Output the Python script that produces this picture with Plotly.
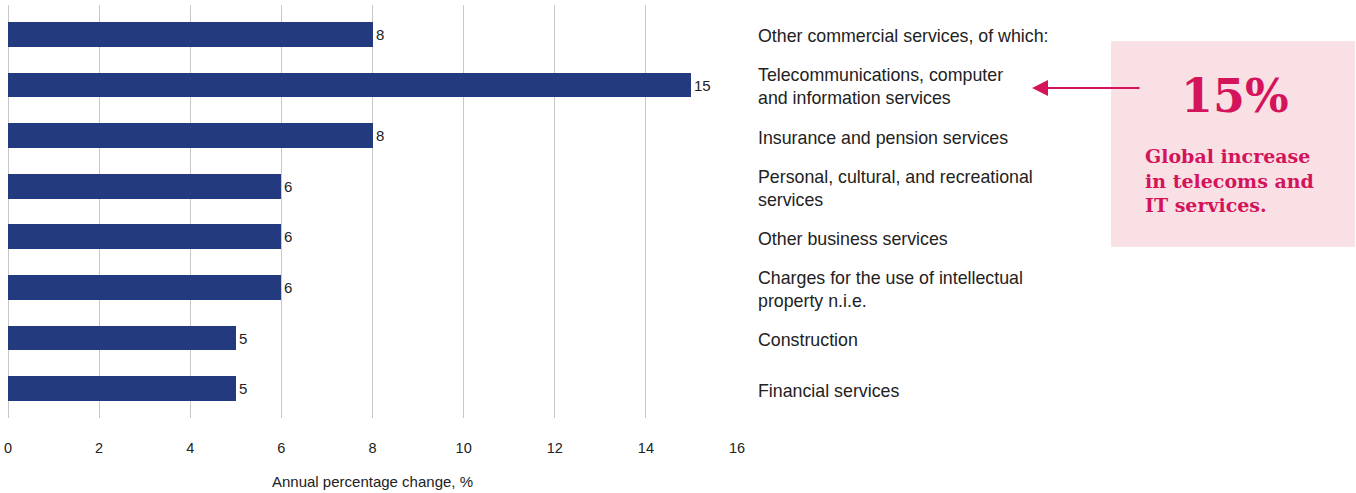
import plotly.graph_objects as go

# Service categories, top to bottom
categories = [
    "Other commercial services, of which:",
    "Telecommunications, computer<br>and information services",
    "Insurance and pension services",
    "Personal, cultural, and recreational<br>services",
    "Other business services",
    "Charges for the use of intellectual<br>property n.i.e.",
    "Construction",
    "Financial services",
]
values = [8, 15, 8, 6, 6, 6, 5, 5]
x_ticks = [0, 2, 4, 6, 8, 10, 12, 14, 16]
callout_value = "15%"
callout_text = "Global increase<br>in telecoms and<br>IT services."

BAR = "#233a7e"
ACCENT = "#d4145a"
BOX = "#f8e0e5"
TEXT = "#222222"
GRID = "#c8c8c8"
SANS = "Liberation Sans, Arial, sans-serif"
SLAB = "DejaVu Serif, serif"

W, H = 1356, 493
ML, MR, MT, MB = 8, W - 737, 5, H - 418
plot_w = W - ML - MR
plot_h = H - MT - MB


def px_to_paper(px):
    return (px - ML) / plot_w


def py_to_paper(py):
    return (H - MB - py) / plot_h


ypos = list(range(len(categories)))

fig = go.Figure(
    go.Bar(
        x=values,
        y=ypos,
        orientation="h",
        width=0.49,
        marker=dict(color=BAR, line=dict(width=0)),
        text=[str(v) for v in values],
        textposition="outside",
        cliponaxis=False,
        textfont=dict(family=SANS, size=15, color=TEXT),
        hoverinfo="skip",
    )
)

# Category labels to the right of the plot
for i, label in enumerate(categories):
    fig.add_annotation(
        x=px_to_paper(756), xref="paper", y=i, yref="y", yshift=-2,
        text=label, showarrow=False, xanchor="left", yanchor="middle",
        align="left", font=dict(family=SANS, size=17.8, color=TEXT),
    )

# Callout box
fig.add_shape(
    type="rect", xref="paper", yref="paper",
    x0=px_to_paper(1111), x1=px_to_paper(1355),
    y0=py_to_paper(247), y1=py_to_paper(41),
    fillcolor=BOX, line=dict(width=0), layer="below",
)
fig.add_annotation(
    xref="paper", yref="paper", x=px_to_paper(1235), y=py_to_paper(96),
    text=f"<b>{callout_value}</b>", showarrow=False,
    xanchor="center", yanchor="middle",
    font=dict(family=SLAB, size=46, color=ACCENT),
)
fig.add_annotation(
    xref="paper", yref="paper", x=px_to_paper(1143), y=py_to_paper(180),
    text=f"<b>{callout_text}</b>", showarrow=False,
    xanchor="left", yanchor="middle", align="left",
    font=dict(family=SLAB, size=19, color=ACCENT),
)
# Arrow pointing at the telecoms label
fig.add_annotation(
    xref="paper", yref="paper",
    x=px_to_paper(1032), y=py_to_paper(88),
    ax=109, ay=0,
    text="", showarrow=True, arrowhead=2, arrowsize=1.6, arrowwidth=2,
    arrowcolor=ACCENT,
)

# Axis title
fig.add_annotation(
    xref="paper", yref="paper", x=0.5, y=py_to_paper(481),
    text="Annual percentage change, %", showarrow=False,
    xanchor="center", yanchor="middle",
    font=dict(family=SANS, size=15, color=TEXT),
)

fig.update_layout(
    width=W, height=H,
    margin=dict(l=ML, r=MR, t=MT, b=MB),
    paper_bgcolor="white", plot_bgcolor="white",
    showlegend=False,
    bargap=0,
    xaxis=dict(
        range=[0, 16], tickvals=x_ticks, ticktext=[str(t) for t in x_ticks],
        showgrid=True, gridcolor=GRID, gridwidth=1,
        zeroline=True, zerolinecolor=GRID, zerolinewidth=1,
        showline=False, ticks="",
        tickfont=dict(family=SANS, size=14.5, color=TEXT),
        ticklabelstandoff=19,
    ),
    yaxis=dict(
        range=[7.58, -0.58], showticklabels=False, showgrid=False,
        zeroline=False, showline=False, ticks="",
    ),
)

fig.write_html("out.html")
